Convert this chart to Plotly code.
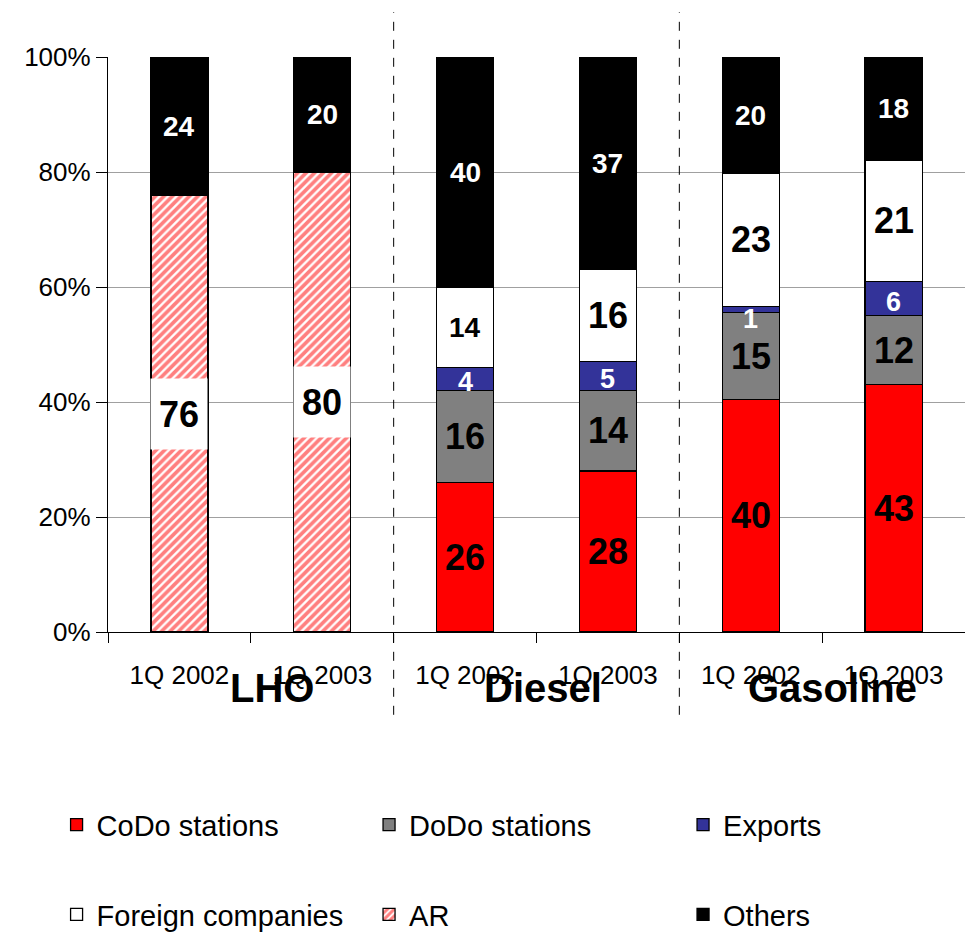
import plotly.graph_objects as go

# Six bars: two quarters for each of three products
groups = ["LHO", "Diesel", "Gasoline"]
quarters = ["1Q 2002", "1Q 2003", "1Q 2002", "1Q 2003", "1Q 2002", "1Q 2003"]
y_ticks = [0, 20, 40, 60, 80, 100]
y_tick_text = ["0%", "20%", "40%", "60%", "80%", "100%"]

# Sales structure per channel (None = channel not present for that product)
codo = [None, None, 26, 28, 40, 43]
dodo = [None, None, 16, 14, 15, 12]
exports = [None, None, 4, 5, 1, 6]
foreign = [None, None, 14, 16, 23, 21]
ar = [76, 80, None, None, None, None]
others = [24, 20, 40, 37, 20, 18]

FONT = "Liberation Sans, Arial, sans-serif"
xpos = list(range(len(quarters)))

series = [
    # name, values, fill, label colour, label size, legend
    ("CoDo stations", codo, "#ff0000", "black", 36, "legend"),
    ("DoDo stations", dodo, "#808080", "black", 36, "legend2"),
    ("Exports", exports, "#333399", "white", 27, "legend3"),
    ("Foreign companies", foreign, "#ffffff", "black", 36, "legend"),
    ("AR", ar, "#ffffff", "black", 36, "legend2"),
    ("Others", others, "#000000", "white", 28, "legend3"),
]
# smaller label on the diesel foreign-companies bar (1Q 2002)
small_foreign = {2}

fig = go.Figure()
for name, vals, col, _, _, leg in series:
    marker = dict(color=col, line=dict(color="black", width=1.3))
    if name == "AR":
        marker["pattern"] = dict(shape="/", fgcolor="#ff0000", bgcolor="#ffffff",
                                 size=6, solidity=0.62, fillmode="overlay")
    fig.add_trace(go.Bar(
        x=xpos, y=vals, name=name, marker=marker, width=0.4,
        legend=leg, legendgroup=name, hoverinfo="skip",
    ))

# value labels placed at the middle of each stacked segment
annotations = []
for i in xpos:
    total = sum(v[i] for _, v, *_ in series if v[i] is not None)
    cum = 0.0
    for name, vals, col, tcol, tsize, _ in series:
        v = vals[i]
        if v is None:
            continue
        mid = (cum + v / 2) / total * 100
        cum += v
        size = tsize
        if name == "Foreign companies" and i in small_foreign:
            size = 28
        ann = dict(x=i, y=mid, xref="x", yref="y", text=str(v), showarrow=False,
                   font=dict(family=FONT, size=size, color=tcol, weight="bold"))
        if name == "Exports":
            ann["yshift"] = -9 if v == 1 else -3
        if name == "AR":
            ann.update(bgcolor="white", width=54, height=68)
        annotations.append(ann)

# product names under the quarter labels
group_x = [0.5, 2.5, 4.5]
group_shift = [21, 6, 10]
for g, gx, sh in zip(groups, group_x, group_shift):
    annotations.append(dict(
        x=gx, y=-0.098, xref="x", yref="paper", text=g, showarrow=False, xshift=sh,
        yanchor="middle",
        font=dict(family=FONT, size=40, color="black", weight="bold"),
    ))

# dashed separators between products
shapes = []
for sx in [1.5, 3.5]:
    shapes.append(dict(type="line", xref="x", yref="paper", x0=sx, x1=sx,
                       y0=-0.144, y1=1.078, line=dict(color="black", width=1, dash="dash")))

legend_common = dict(
    font=dict(family=FONT, size=29, color="black"),
    orientation="v", traceorder="grouped", tracegroupgap=49,
    yanchor="top", y=-0.291, xanchor="left", bgcolor="rgba(0,0,0,0)",
)

fig.update_layout(
    width=965, height=932,
    margin=dict(l=108, r=0, t=57, b=300, autoexpand=False),
    barmode="stack", barnorm="percent",
    plot_bgcolor="white", paper_bgcolor="white",
    font=dict(family=FONT, color="black"),
    annotations=annotations, shapes=shapes,
    showlegend=True,
    legend=dict(x=-0.06, **legend_common),
    legend2=dict(x=0.3046, **legend_common),
    legend3=dict(x=0.671, **legend_common),
    xaxis=dict(
        range=[-0.5, 5.5], tickmode="array", tickvals=xpos, ticktext=quarters,
        ticks="", showgrid=False, zeroline=False, showline=True,
        linecolor="black", linewidth=1.3, automargin=False,
        tickfont=dict(family=FONT, size=26, color="black"),
        ticklabelstandoff=20,
        minor=dict(ticks="outside", tick0=0.5, dtick=1, ticklen=10,
                   tickcolor="black", tickwidth=1.3, showgrid=False),
    ),
    yaxis=dict(
        range=[0, 100], tickmode="array", tickvals=y_ticks, ticktext=y_tick_text,
        showgrid=True, gridcolor="#a0a0a0", gridwidth=1.3, zeroline=False,
        showline=True, linecolor="black", linewidth=1.3, automargin=False,
        ticks="outside", ticklen=11, tickcolor="black", tickwidth=1.3,
        tickfont=dict(family=FONT, size=26, color="black"),
    ),
)

fig.write_html("out.html")
